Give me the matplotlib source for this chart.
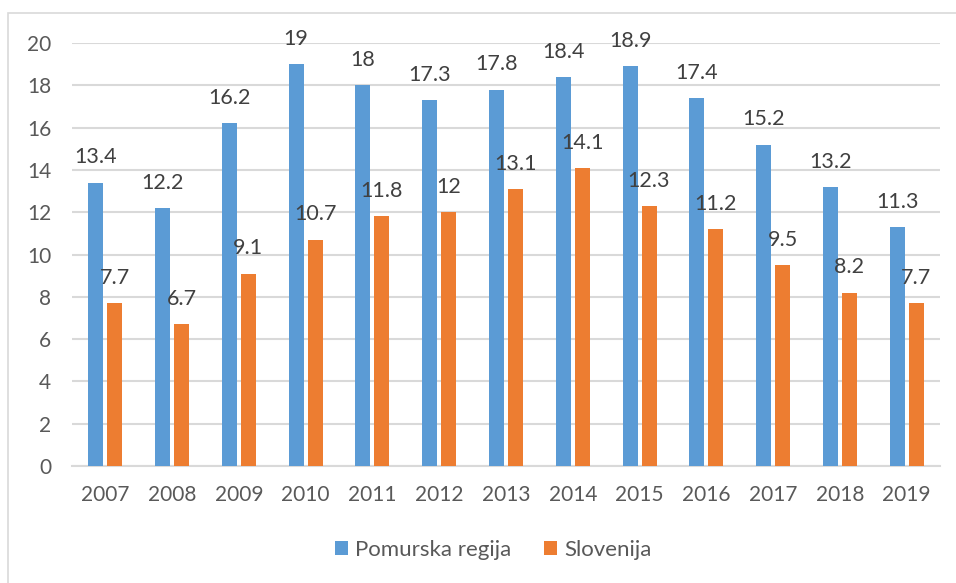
import numpy as np
import matplotlib.pyplot as plt
from matplotlib.patches import Rectangle

years = ["2007", "2008", "2009", "2010", "2011", "2012", "2013",
         "2014", "2015", "2016", "2017", "2018", "2019"]
pomurska = [13.4, 12.2, 16.2, 19, 18, 17.3, 17.8, 18.4, 18.9, 17.4, 15.2, 13.2, 11.3]
slovenija = [7.7, 6.7, 9.1, 10.7, 11.8, 12, 13.1, 14.1, 12.3, 11.2, 9.5, 8.2, 7.7]

blue = "#5B9BD5"
orange = "#ED7D31"
grey_txt = "#595959"
grid_col = "#D9D9D9"

plt.rcParams["font.family"] = ["Lato", "DejaVu Sans"]

fig = plt.figure(figsize=(9.56, 5.83), dpi=100)
ax = fig.add_axes([0.0753, 0.2007, 0.9080, 0.7255])

x = np.arange(len(years))
w = 0.225
off = 0.142
b1 = ax.bar(x - off, pomurska, w, color=blue, label="Pomurska regija", zorder=3)
b2 = ax.bar(x + off, slovenija, w, color=orange, label="Slovenija", zorder=3)

for bars, vals in ((b1, pomurska), (b2, slovenija)):
    for r, v in zip(bars, vals):
        ax.annotate(f"{v:g}", (r.get_x() + r.get_width() / 2, v),
                    xytext=(0, 11), textcoords="offset points",
                    ha="center", va="bottom", fontsize=15.5, color="#404040")

ax.set_xlim(-0.5, len(years) - 0.5)
ax.set_ylim(0, 20)
ax.set_yticks(range(0, 21, 2))
ax.set_xticks(x)
ax.set_xticklabels(years)
ax.yaxis.grid(True, color=grid_col, linewidth=1.5, zorder=0)
ax.set_axisbelow(True)
for s in ("top", "right", "left"):
    ax.spines[s].set_visible(False)
ax.spines["bottom"].set_color(grid_col)
ax.spines["bottom"].set_linewidth(1.5)
ax.tick_params(axis="both", length=0, labelsize=15, labelcolor=grey_txt)
ax.tick_params(axis="y", pad=15)
ax.tick_params(axis="x", pad=14)

fig.legend(handles=[b1, b2], loc="center", bbox_to_anchor=(493 / 956, 1 - 550 / 583),
           ncol=2, frameon=False, fontsize=16, labelcolor=grey_txt,
           handlelength=0.6, handleheight=0.6, handletextpad=0.3, columnspacing=1.5)

fig.patches.append(Rectangle((8 / 956, -0.1), 2, 1.1 - 13 / 583, transform=fig.transFigure,
                             fill=False, edgecolor=grid_col, linewidth=1.2))

fig.savefig("out.png", dpi=100)
